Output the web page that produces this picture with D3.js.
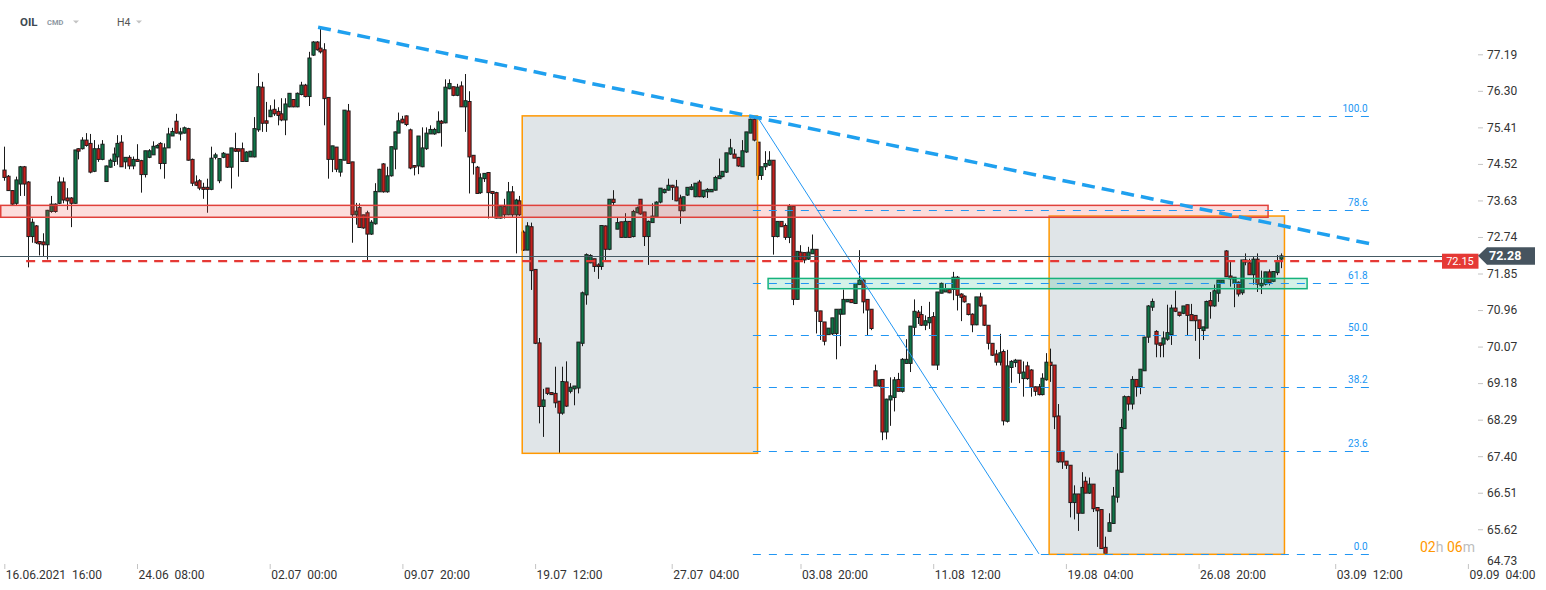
<!DOCTYPE html>
<html><head><meta charset="utf-8">
<script src="https://cdn.jsdelivr.net/npm/d3@7"></script>
<style>
html,body{margin:0;padding:0;background:#fff;}
svg{display:block;font-family:Roboto,"Liberation Sans",Arial,sans-serif;}
</style></head><body>
<svg id="c" width="1546" height="590"></svg>
<script>
// ---- candle data (H4 bars, oldest first) ----
const opens=[74.37,74.22,73.87,73.56,74.03,74.45,74.08,72.75,73.01,72.63,72.62,72.55,73.36,73.54,73.56,74.08,73.69,73.69,73.56,74.89,74.89,75.10,75.02,74.34,74.89,74.63,74.09,74.44,74.58,74.69,75.05,74.57,74.68,74.47,74.63,74.60,74.26,74.68,74.74,74.91,75.02,74.53,74.91,75.20,75.56,75.25,75.27,75.38,74.63,74.08,74.11,73.95,73.95,73.90,74.68,74.11,74.68,74.76,74.44,74.89,74.89,74.89,74.58,74.69,74.69,75.35,76.39,75.57,75.67,75.85,75.80,75.74,75.59,75.91,76.09,75.91,76.21,76.44,76.16,77.17,77.49,77.34,77.30,76.14,74.63,74.93,74.32,74.61,75.81,74.57,73.28,73.46,73.28,73.33,72.81,73.06,73.84,74.52,73.84,74.23,74.88,75.27,75.61,75.69,75.35,74.48,74.47,74.45,74.89,75.25,75.25,75.28,75.56,75.52,76.35,76.40,76.19,76.42,75.91,76.04,74.73,74.44,73.82,74.16,74.31,73.85,73.82,73.20,73.48,73.28,73.84,73.28,73.62,72.86,72.42,72.99,71.95,70.16,68.61,69.06,68.95,68.93,68.74,68.45,69.21,68.98,69.04,69.06,70.15,71.33,72.11,72.21,72.06,72.02,73.01,72.44,73.66,72.93,73.11,72.73,73.12,72.75,73.33,73.66,73.35,72.75,73.09,73.23,73.59,73.82,73.88,74.00,73.96,73.69,73.38,73.76,73.90,73.72,74.08,73.72,73.84,73.84,73.88,74.16,74.21,74.32,74.76,74.76,74.68,74.45,74.81,75.27,75.61,75.05,74.24,74.45,74.49,74.61,72.75,73.12,73.02,72.73,73.49,71.22,72.37,72.36,72.20,72.33,72.44,70.94,70.67,70.36,70.38,70.39,70.86,70.86,71.16,71.22,71.12,71.58,71.69,71.22,70.98,69.48,69.11,69.27,67.99,68.77,68.83,69.27,68.98,69.66,69.66,70.54,70.91,70.85,70.59,70.65,70.80,69.62,71.37,71.40,71.46,71.46,71.76,71.35,71.30,71.11,70.86,70.60,71.28,71.08,70.59,70.15,69.89,69.69,69.95,68.25,69.56,69.68,69.74,69.29,69.60,69.50,69.09,69.09,68.90,69.26,69.69,69.62,68.38,67.52,67.28,67.18,66.27,66.48,66.01,66.79,66.50,66.72,66.15,66.10,65.18,65.57,65.76,66.40,67.01,68.07,68.85,68.67,69.27,69.09,69.48,70.30,71.03,70.44,70.16,70.13,70.25,70.36,71.01,70.91,70.88,71.09,70.85,70.83,70.72,70.46,70.52,71.19,71.06,71.37,71.61,72.40,71.79,71.61,71.64,71.38,72.18,72.11,71.82,72.20,71.55,71.59,71.89,71.66,71.87,72.20];
const highs=[74.94,74.25,73.88,74.21,74.47,74.47,74.10,73.19,73.03,72.64,72.83,73.40,73.74,73.56,74.21,74.19,73.93,73.71,74.86,74.90,75.17,75.27,75.25,75.10,74.99,75.10,74.48,74.65,74.92,75.22,75.22,74.68,74.73,74.70,75.00,74.62,74.84,74.88,75.07,75.00,75.05,75.02,75.40,75.40,75.74,75.40,75.43,75.40,74.65,74.24,74.15,74.06,74.16,74.94,74.79,74.66,74.81,74.76,74.91,75.28,74.89,75.04,74.83,74.83,75.66,76.73,76.52,76.03,75.95,76.09,75.90,76.12,76.12,76.24,76.10,76.26,76.52,76.47,77.25,77.51,77.51,77.81,77.46,76.14,74.96,74.93,74.63,75.83,75.98,74.57,73.57,73.56,73.28,73.38,73.15,74.05,74.40,74.54,74.45,74.94,75.31,75.77,75.69,75.70,75.38,74.48,75.20,75.41,75.41,75.46,75.40,75.80,75.59,76.58,76.58,76.40,76.47,76.53,76.71,76.29,74.73,74.47,74.29,74.29,74.31,73.85,73.84,73.48,73.67,74.08,73.98,73.67,73.74,72.90,73.10,73.09,71.95,70.28,69.04,69.06,68.96,69.58,68.74,69.58,69.71,69.18,69.11,70.18,71.41,72.34,72.32,72.21,72.10,73.02,73.02,73.66,73.88,73.22,73.11,73.32,73.12,73.40,73.48,73.66,73.35,73.14,73.56,73.61,73.93,73.92,74.16,74.01,74.13,73.77,73.72,73.95,74.03,74.05,74.13,73.88,73.93,73.90,74.23,74.65,74.34,74.79,75.13,74.88,74.69,75.10,75.30,75.62,75.69,75.05,74.45,74.83,74.83,74.61,73.12,73.12,73.07,73.54,73.49,72.39,72.54,72.36,72.50,72.80,72.44,70.94,70.67,70.52,70.77,70.98,70.99,71.46,71.22,71.22,71.61,72.42,71.72,71.22,70.98,69.63,69.26,69.27,68.80,69.32,69.33,69.43,69.79,70.25,70.57,71.22,70.96,71.06,70.83,71.16,70.91,71.40,71.63,71.61,71.48,71.89,71.79,71.37,71.32,71.12,70.88,71.28,71.38,71.08,70.59,70.15,69.99,70.38,70.00,69.99,69.74,69.77,69.74,69.71,69.70,69.52,69.10,69.16,69.42,69.91,70.02,69.62,68.67,67.53,67.28,67.18,66.69,66.48,67.01,66.90,66.88,66.72,66.15,66.10,65.44,66.01,66.65,67.47,68.31,68.88,68.87,69.35,69.27,69.52,70.31,71.08,71.24,70.47,70.16,70.44,71.09,71.09,71.43,70.91,71.06,71.09,71.11,70.83,70.72,70.55,71.19,71.40,71.58,71.69,71.69,72.42,72.13,71.76,71.66,72.18,72.34,72.21,72.26,72.34,71.92,71.89,71.95,71.90,72.30,72.34];
const lows=[74.11,73.86,73.51,73.52,73.74,73.74,72.00,72.60,72.57,72.29,72.26,72.19,73.33,73.33,73.54,73.56,73.40,72.98,73.55,74.63,74.87,74.94,74.29,74.32,74.57,74.61,74.08,74.43,74.47,74.50,74.45,74.40,74.39,74.39,74.58,73.82,74.19,74.66,74.74,74.90,74.39,74.16,74.91,75.20,75.26,75.09,75.26,74.60,73.98,73.98,73.88,73.67,73.33,73.88,74.63,74.05,74.66,74.42,73.92,74.81,74.21,74.58,74.57,74.69,74.68,75.30,75.30,75.30,75.66,75.69,75.46,75.56,75.22,75.90,75.90,75.90,76.19,76.14,75.93,77.15,77.28,77.21,75.46,74.16,74.32,74.32,74.21,74.61,74.53,72.60,73.04,72.96,72.94,72.15,72.79,73.04,73.84,73.82,73.82,74.21,74.39,75.27,75.51,75.44,74.39,74.24,74.27,74.44,74.86,75.25,75.23,75.27,74.94,75.51,76.34,76.17,76.17,75.91,75.30,73.80,74.26,73.80,73.79,74.08,73.19,73.22,73.19,73.19,73.19,73.27,73.22,72.34,73.25,72.40,72.42,71.45,70.13,68.20,67.87,68.89,68.89,68.58,67.48,68.41,68.60,68.93,68.64,68.93,70.08,71.09,72.10,71.89,71.72,71.94,72.16,72.42,73.51,72.93,72.73,72.73,72.73,72.73,73.32,73.28,72.52,72.06,73.09,73.22,73.56,73.80,73.87,73.64,73.61,73.06,73.36,73.74,73.88,73.71,73.71,73.69,73.69,73.84,73.87,74.16,74.19,74.30,74.74,74.66,74.45,74.45,74.79,75.27,75.07,74.13,74.13,74.37,74.47,72.31,72.73,72.99,72.67,72.59,71.08,71.22,72.18,72.10,72.18,72.33,70.39,70.23,70.10,70.36,70.35,69.76,70.08,70.86,71.16,71.14,71.12,71.58,70.88,70.35,70.47,69.11,69.09,67.79,67.81,68.14,68.49,68.98,68.95,69.66,69.45,70.33,70.62,70.57,70.47,70.50,69.62,69.50,71.37,71.40,71.37,71.20,70.95,70.69,71.14,70.83,70.42,70.59,71.04,70.57,70.00,69.84,69.61,69.61,68.15,68.22,69.19,69.57,69.18,68.85,69.26,68.85,68.87,68.88,68.88,69.24,69.21,68.06,67.24,67.09,67.09,65.91,65.86,65.58,66.01,66.50,66.48,66.04,65.19,65.15,65.02,65.57,65.75,66.27,67.00,68.07,68.51,68.54,68.85,68.91,69.48,70.16,70.94,69.81,69.81,69.81,70.21,70.11,70.91,70.80,70.86,70.34,70.70,70.21,69.77,70.23,70.52,70.75,71.04,71.16,71.60,71.77,71.53,71.03,71.29,71.33,72.05,71.82,71.58,71.40,71.35,71.56,71.56,71.64,71.81,71.98];
const closes=[74.19,73.87,73.54,74.13,74.45,74.03,72.75,73.10,72.60,72.57,72.55,73.39,73.54,73.36,74.08,73.64,73.62,73.56,74.86,74.83,75.10,74.97,74.32,74.89,74.63,75.00,74.47,74.61,74.76,75.02,74.45,74.68,74.47,74.63,74.58,74.26,74.84,74.84,74.95,74.97,74.53,74.91,75.25,75.31,75.27,75.30,75.40,74.61,74.05,74.00,73.93,73.90,73.90,74.66,74.74,74.65,74.78,74.44,74.91,74.83,74.83,74.58,74.81,74.83,75.38,76.40,75.51,75.51,75.83,75.74,75.70,75.59,75.98,76.24,75.91,76.24,76.44,76.16,77.10,77.49,77.30,77.25,76.11,74.63,74.96,74.39,74.63,75.83,74.53,73.28,73.37,72.97,72.96,72.81,73.10,73.85,74.39,73.84,74.23,74.94,75.30,75.57,75.52,75.48,74.42,74.44,75.20,74.91,75.27,75.36,75.36,75.56,75.51,76.39,76.48,76.19,76.39,75.91,76.06,74.69,74.55,73.80,74.18,74.29,73.82,73.80,73.20,73.48,73.28,73.84,73.28,73.64,73.28,72.42,73.01,71.92,70.15,68.61,68.77,68.93,68.90,68.70,68.45,69.22,68.62,69.08,69.11,70.18,71.38,72.31,72.29,72.02,72.02,73.02,72.44,73.66,73.58,73.09,72.73,73.12,72.73,73.36,73.45,73.30,72.75,73.12,73.25,73.59,73.93,73.90,74.00,73.95,73.62,73.38,73.72,73.95,73.96,74.05,73.72,73.88,73.90,73.90,74.19,74.23,74.34,74.79,74.91,74.66,74.47,74.84,75.30,75.61,75.10,74.24,74.45,74.53,74.61,72.75,73.12,72.99,72.73,73.49,71.22,72.39,72.18,72.18,72.37,72.44,70.93,70.68,70.20,70.52,70.77,70.98,70.98,71.22,71.22,71.14,71.61,71.69,71.16,70.96,70.51,69.11,69.26,67.99,68.79,68.87,69.26,68.98,69.76,69.76,70.57,70.93,70.78,70.59,70.70,70.78,69.62,71.40,71.61,71.48,71.38,71.76,71.32,71.27,71.16,70.85,70.60,71.28,71.06,70.59,70.15,69.86,69.69,69.92,68.26,69.60,69.71,69.74,69.42,69.45,69.29,69.08,68.98,68.90,69.30,69.69,69.61,68.36,67.26,67.26,67.18,66.27,66.48,66.01,66.64,66.50,66.72,66.12,66.07,65.15,65.03,65.78,66.43,67.06,68.10,68.85,68.67,69.27,69.09,69.52,70.30,71.06,71.17,70.13,70.10,70.28,70.41,71.01,70.93,70.83,71.06,70.83,70.70,70.70,70.51,70.55,71.17,71.06,71.43,71.69,71.69,71.77,71.72,71.76,71.35,72.18,72.13,71.82,72.20,71.59,71.61,71.89,71.63,71.90,72.16,72.28];

// ---- axes ----
const priceTicks=[77.19,76.30,75.41,74.52,73.63,72.74,71.85,70.96,70.07,69.18,68.29,67.40,66.51,65.62,64.73];
const timeTickIndex=[0,34,68,102,136,171,204,238,272,306,341,375];
const timeTickLabels=["16.06.2021  16:00","24.06  08:00","02.07  00:00","09.07  20:00","19.07  12:00","27.07  04:00","03.08  20:00","11.08  12:00","19.08  04:00","26.08  20:00","03.09  12:00","09.09  04:00"];

// ---- annotations (bar index, price) ----
const fibLevels=[100,78.6,61.8,50,38.2,23.6,0];
const fibHigh=75.69, fibLow=65.02;
const fibSpan=[191.8,349.8];
const fibDiagonal=[[192.8,75.69],[265.1,65.02]];
const trendLine=[[80.4,77.85],[351.2,72.55]];
const grayBoxes=[{i0:132.7,i1:193.0,p0:67.47,p1:75.69},{i0:267.7,i1:328.0,p0:65.01,p1:73.25}];
const pinkZone={i0:-2,i1:323.8,p0:73.22,p1:73.51};
const greenZone={i0:195.7,i1:333.8,p0:71.48,p1:71.73};
const dashedLevel={price:72.15,i0:5.6};
const lastPrice=72.28;

const svg=d3.select("#c");
const x=d3.scaleLinear().domain([0,375]).range([4.3,1467.9]);
const y=d3.scaleLinear().domain([64.73,77.19]).range([565.8,54.3]);
const bars=opens.map((o,i)=>({i,o,h:highs[i],l:lows[i],c:closes[i]}));

// gray boxes fill
svg.append("g").selectAll("rect").data(grayBoxes).join("rect")
  .attr("x",d=>x(d.i0)).attr("y",d=>y(d.p1))
  .attr("width",d=>x(d.i1)-x(d.i0)).attr("height",d=>y(d.p0)-y(d.p1))
  .attr("fill","rgba(120,144,156,0.23)");

// candles
const cg=svg.append("g");
cg.selectAll("line").data(bars).join("line")
  .attr("x1",d=>Math.round(x(d.i))+0.5).attr("x2",d=>Math.round(x(d.i))+0.5)
  .attr("y1",d=>y(d.h)).attr("y2",d=>y(d.l))
  .attr("stroke","#1a1a1a").attr("stroke-width",1);
cg.selectAll("rect").data(bars).join("rect")
  .attr("x",d=>Math.round(x(d.i))+0.5-1.6).attr("width",3.2)
  .attr("y",d=>y(Math.max(d.o,d.c)))
  .attr("height",d=>Math.max(1,Math.abs(y(d.o)-y(d.c))))
  .attr("fill",d=>d.c>=d.o?"#0f7548":"#c4201e")
  .attr("stroke","#1a1a1a").attr("stroke-width",0.95);

// gray boxes border
svg.append("g").selectAll("rect").data(grayBoxes).join("rect")
  .attr("x",d=>x(d.i0)).attr("y",d=>y(d.p1))
  .attr("width",d=>x(d.i1)-x(d.i0)).attr("height",d=>y(d.p0)-y(d.p1))
  .attr("fill","none").attr("stroke","#ff9800").attr("stroke-width",1.5);

// zones
function zone(z,fill,stroke){
  svg.append("rect").attr("x",Math.max(0.75,x(z.i0))).attr("y",y(z.p1))
    .attr("width",x(z.i1)-Math.max(0.75,x(z.i0))).attr("height",y(z.p0)-y(z.p1))
    .attr("fill",fill).attr("stroke",stroke).attr("stroke-width",1.5);
}
zone(pinkZone,"rgba(239,83,80,0.2)","#e0403a");
zone(greenZone,"rgba(0,180,120,0.17)","#16b37c");

// fib levels
const fg=svg.append("g");
fibLevels.forEach(l=>{
  const p=fibLow+(fibHigh-fibLow)*l/100;
  fg.append("line").attr("x1",x(fibSpan[0])).attr("x2",x(fibSpan[1]))
    .attr("y1",Math.round(y(p))+0.5).attr("y2",Math.round(y(p))+0.5)
    .attr("stroke","#2196f3").attr("stroke-width",1).attr("stroke-dasharray","8,8");
  fg.append("text").attr("x",x(fibSpan[1])-2).attr("y",y(p)-4)
    .attr("text-anchor","end").attr("font-size",10).attr("fill","#2196f3")
    .text(d3.format(".1f")(l));
});
svg.append("line")
  .attr("x1",x(fibDiagonal[0][0])).attr("y1",y(fibDiagonal[0][1]))
  .attr("x2",x(fibDiagonal[1][0])).attr("y2",y(fibDiagonal[1][1]))
  .attr("stroke","#2196f3").attr("stroke-width",1);

// trend line
svg.append("line")
  .attr("x1",x(trendLine[0][0])).attr("y1",y(trendLine[0][1]))
  .attr("x2",x(trendLine[1][0])).attr("y2",y(trendLine[1][1]))
  .attr("stroke","#1fa0ef").attr("stroke-width",3.5).attr("stroke-dasharray","13,7");

// current price line
svg.append("line").attr("x1",0).attr("x2",1478)
  .attr("y1",Math.round(y(lastPrice))+0.5).attr("y2",Math.round(y(lastPrice))+0.5)
  .attr("stroke","#455a64").attr("stroke-width",1);
// red dashed level
svg.append("line").attr("x1",x(dashedLevel.i0)).attr("x2",1442)
  .attr("y1",y(dashedLevel.price)).attr("y2",y(dashedLevel.price))
  .attr("stroke","#e53935").attr("stroke-width",2.2).attr("stroke-dasharray","9,7");

// price axis
const ya=svg.append("g").attr("transform","translate(1478,0)")
  .call(d3.axisRight(y).tickValues(priceTicks).tickFormat(d3.format(".2f")).tickSize(5));
ya.select(".domain").remove();
ya.selectAll(".tick line").attr("stroke","#c4c4c4");
ya.selectAll(".tick text").attr("x",9).attr("font-size",12).attr("fill","#333")
  .attr("font-family","Roboto, Arial, sans-serif");
ya.selectAll(".tick").filter(d=>y(d)>561).each(function(d){
  d3.select(this).select("text").attr("y",561-y(d));
  d3.select(this).select("line").remove();
});

// time axis
const xa=svg.append("g").attr("transform","translate(0,564)")
  .call(d3.axisBottom(x).tickValues(timeTickIndex).tickFormat((d,i)=>timeTickLabels[i]).tickSize(5));
xa.select(".domain").remove();
xa.selectAll(".tick line").attr("stroke","#c4c4c4");
xa.selectAll(".tick text").attr("text-anchor","start").attr("x",1).attr("y",15).attr("dy",0)
  .attr("font-size",12).attr("fill","#333").attr("font-family","Roboto, Arial, sans-serif")
  .style("white-space","pre");

// price badges
const yr=y(dashedLevel.price);
svg.append("rect").attr("x",1442).attr("y",yr-7.5).attr("width",36.5).attr("height",15).attr("fill","#e53935");
svg.append("text").attr("x",1460).attr("y",yr).attr("dy","0.35em").attr("text-anchor","middle")
  .attr("font-size",11).attr("fill","#fff").text(d3.format(".2f")(dashedLevel.price));
const yl=y(lastPrice);
svg.append("path").attr("d",`M1478,${yl} L1487,${yl-8.5} L1535,${yl-8.5} L1535,${yl+9} L1487,${yl+9} Z`).attr("fill","#46545f");
svg.append("text").attr("x",1489).attr("y",yl).attr("dy","0.36em")
  .attr("font-size",12.5).attr("font-weight","bold").attr("fill","#fff").text(d3.format(".2f")(lastPrice));

// countdown
const cd=svg.append("text").attr("x",1420).attr("y",552).attr("font-size",14);
cd.append("tspan").attr("fill","#ff9800").text("02");
cd.append("tspan").attr("fill","#bdbdbd").text("h ");
cd.append("tspan").attr("fill","#ff9800").text("06");
cd.append("tspan").attr("fill","#bdbdbd").text("m");

// header
svg.append("text").attr("x",20).attr("y",26).attr("font-size",11.5).attr("font-weight","bold").attr("fill","#404a52").text("OIL");
svg.append("text").attr("x",47).attr("y",25).attr("font-size",7.5).attr("font-weight","bold").attr("fill","#8e99a3").text("CMD");
svg.append("path").attr("d","M73,20.5 L79,20.5 L76,23.5 Z").attr("fill","#c3c3c3");
svg.append("text").attr("x",117).attr("y",26).attr("font-size",10.5).attr("fill","#555").text("H4");
svg.append("path").attr("d","M136,20.5 L142,20.5 L139,23.5 Z").attr("fill","#c3c3c3");
</script>
</body></html>
